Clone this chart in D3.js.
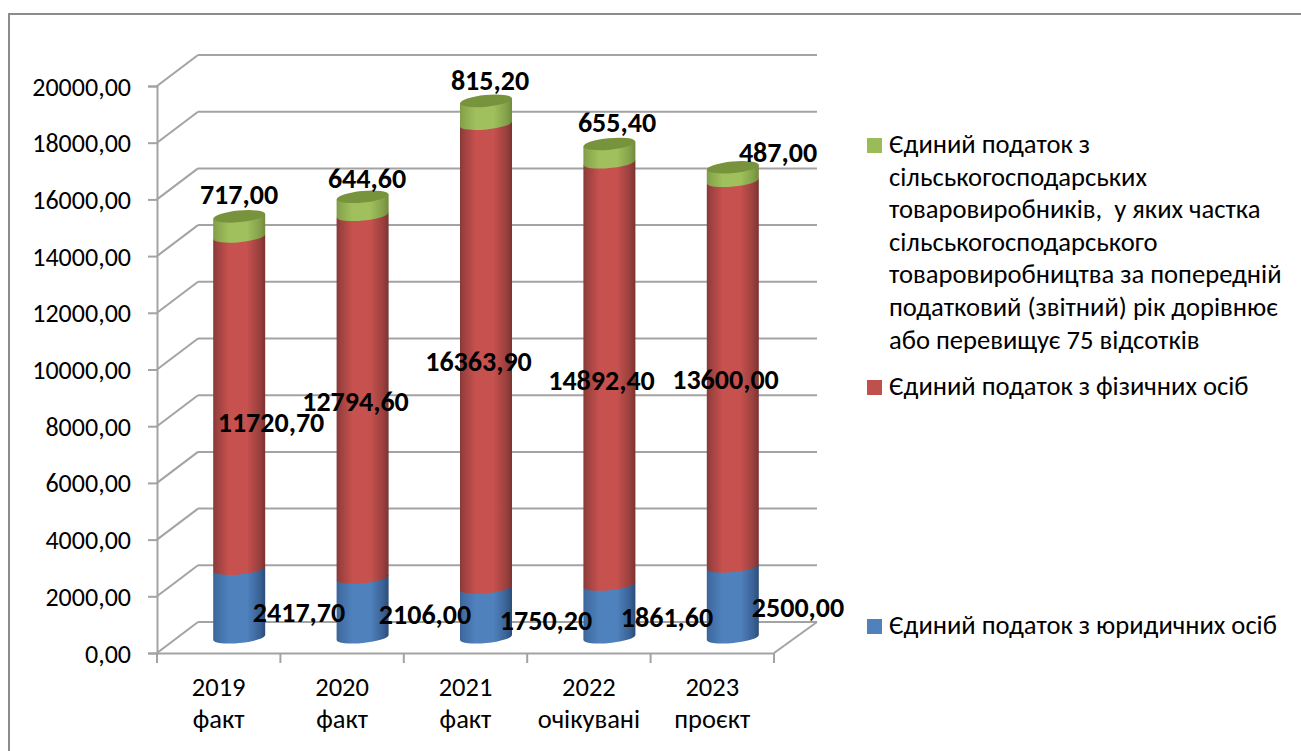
<!DOCTYPE html>
<html><head><meta charset="utf-8">
<script src="https://cdn.jsdelivr.net/npm/d3@7"></script>
<style>html,body{margin:0;padding:0;background:#fff}svg{display:block}text{font-family:Carlito,Lato,"Open Sans",sans-serif;fill:#000}</style>
</head><body><svg id="c" width="1301" height="751"></svg>
<script>
const categories=[["2019","факт"],["2020","факт"],["2021","факт"],["2022","очікувані"],["2023","проєкт"]];
const legalEntities=[2417.70,2106.00,1750.20,1861.60,2500.00];
const individuals=[11720.70,12794.60,16363.90,14892.40,13600.00];
const farmers=[717.00,644.60,815.20,655.40,487.00];
const yTicks=[0,2000,4000,6000,8000,10000,12000,14000,16000,18000,20000];
const legendGreen=["Єдиний податок з","сільськогосподарських","товаровиробників,  у яких частка","сільськогосподарського","товаровиробництва за попередній","податковий (звітний) рік дорівнює","або перевищує 75 відсотків"];
const legendRed=["Єдиний податок з фізичних осіб"];
const legendBlue=["Єдиний податок з юридичних осіб"];

const svg=d3.select("#c");
const fmt=d3.formatLocale({decimal:",",thousands:"",grouping:[3],currency:["",""]}).format(".2f");
const plot={left:157,right:774,top:86,bottom:653,dx:41,dy:-31};
const x=d3.scaleBand().domain(d3.range(categories.length)).range([plot.left,plot.right]);
const y=d3.scaleLinear().domain([0,20000]).range([plot.bottom,plot.top]);
const grid="#a3a3a3";

// frame
svg.append("path").attr("d","M9,751V14H1301").attr("fill","none").attr("stroke","#8c8c8c").attr("stroke-width",2);

// back wall and side wall
const g=svg.append("g").attr("fill","none").attr("stroke",grid).attr("stroke-width",2);
g.selectAll("line.b").data(yTicks).join("line").attr("x1",plot.left+plot.dx).attr("x2",plot.right+plot.dx+2)
 .attr("y1",d=>y(d)+plot.dy).attr("y2",d=>y(d)+plot.dy);
g.selectAll("line.s").data(yTicks).join("line").attr("x1",plot.left).attr("x2",plot.left+plot.dx)
 .attr("y1",d=>y(d)).attr("y2",d=>y(d)+plot.dy);
g.append("line").attr("x1",plot.right).attr("y1",plot.bottom).attr("x2",plot.right+plot.dx+2).attr("y2",plot.bottom+plot.dy);

// axes
const yAxis=d3.axisLeft(y).tickValues(yTicks).tickFormat(fmt).tickSize(9).tickPadding(17);
const ya=svg.append("g").attr("transform",`translate(${plot.left},0)`).call(yAxis);
const xAxis=d3.axisBottom(x).tickValues([]).tickSize(0);
const xa=svg.append("g").attr("transform",`translate(0,${plot.bottom})`).call(xAxis);
for(const a of [ya,xa]){a.select(".domain").attr("stroke",grid).attr("stroke-width",2);a.selectAll(".tick line").attr("stroke",grid).attr("stroke-width",2);}
ya.selectAll("text").attr("font-size",26).attr("dy",null).attr("dominant-baseline","central");
ya.attr("font-family",null);xa.attr("font-family",null);
svg.selectAll("line.xt").data(d3.range(categories.length+1)).join("line").attr("class","xt")
 .attr("x1",i=>plot.left+i*x.step()).attr("x2",i=>plot.left+i*x.step()).attr("y1",plot.bottom).attr("y2",plot.bottom+10)
 .attr("stroke",grid).attr("stroke-width",2);

// category labels
const cat=svg.append("g").attr("font-size",26.5).attr("text-anchor","middle");
categories.forEach((c,i)=>c.forEach((t,j)=>cat.append("text").attr("x",x(i)+x.bandwidth()/2).attr("y",696+j*32).text(t)));

// gradients
const defs=svg.append("defs");
const palette=[{id:"blue",e1:"#3a6496",c:"#4f81bd",e2:"#2b4c78",cap:"#3b6290"},{id:"red",e1:"#853937",c:"#c6514e",e2:"#7a3331",cap:"#8f3b39"},{id:"green",e1:"#7f9b48",c:"#9fc05c",e2:"#708a3c",cap:"#77933c"}];
palette.forEach(p=>{
 const lg=defs.append("linearGradient").attr("id",p.id);
 [[0,p.e1],[.06,d3.interpolateRgb(p.e1,p.c)(.3)],[.3,p.c],[.65,p.c],[.9,d3.interpolateRgb(p.e2,p.c)(.4)],[1,p.e2]]
  .forEach(s=>lg.append("stop").attr("offset",s[0]).attr("stop-color",s[1]));
});

// cylinders
const seriesList=[legalEntities,individuals,farmers];
const rx=26,ry=5.5,tilt=2.5,rot=-5.5;
const cx=i=>x(i)+x.bandwidth()/2+plot.dx/2;
const cy=v=>y(v)+plot.dy/2;
const bars=svg.append("g");
categories.forEach((c,i)=>{
 let base=0;
 seriesList.forEach((s,k)=>{
  const top=base+s[i],c0=cx(i),y0=cy(base),y1=cy(top);
  bars.append("path").attr("fill",`url(#${palette[k].id})`)
   .attr("d",`M${c0-rx},${y1+tilt}L${c0-rx},${y0+tilt}A${rx},${ry} ${rot} 0 0 ${c0+rx},${y0-tilt}L${c0+rx},${y1-tilt}Z`);
  base=top;
 });
 bars.append("ellipse").attr("cx",cx(i)).attr("cy",cy(base)).attr("rx",rx).attr("ry",ry+.3)
  .attr("transform",`rotate(${rot} ${cx(i)} ${cy(base)})`).attr("fill",palette[2].cap);
});

// data labels, manually placed in the source chart
const lab=svg.append("g").attr("font-size",28).attr("font-weight",700).attr("text-anchor","middle");
const blueBase=[622,624,630,627,617],redBase=[432,411,371,390,389],greenBase=[204,188,90,132,162];
const blueX=[299,425,546,667,798],redX=[271,355.5,478.5,601.5,725.5],greenX=[239,367,490,617,778];
categories.forEach((c,i)=>{
 lab.append("text").attr("x",blueX[i]).attr("y",blueBase[i]).text(fmt(legalEntities[i]));
 lab.append("text").attr("x",redX[i]).attr("y",redBase[i]).text(fmt(individuals[i]));
 lab.append("text").attr("x",greenX[i]).attr("y",greenBase[i]).text(fmt(farmers[i]));
});

// legend
const leg=svg.append("g").attr("font-size",26.6);
[[legendGreen,153,"#9bbb59"],[legendRed,395,"#c0504d"],[legendBlue,634,"#4f81bd"]].forEach(([lines,b,col])=>{
 leg.append("rect").attr("x",867).attr("y",b-15).attr("width",15).attr("height",15).attr("fill",col);
 lines.forEach((t,j)=>leg.append("text").attr("x",889).attr("y",b+j*32.6).style("white-space","pre").text(t));
});
</script></body></html>
